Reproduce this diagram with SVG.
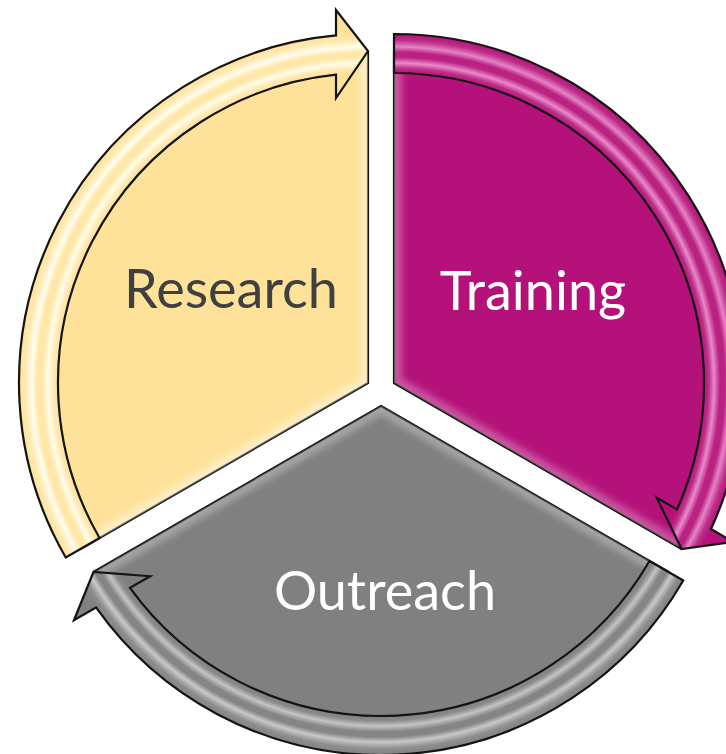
<svg xmlns="http://www.w3.org/2000/svg" xmlns:xlink="http://www.w3.org/1999/xlink" width="726" height="754" viewBox="0 0 726 754">
  <style>
    .edge{stroke:#141414;stroke-width:2.2;stroke-linejoin:miter}
    .lbl{font-family:Lato,"Open Sans","Liberation Sans",sans-serif;font-size:54px;text-anchor:middle}
    .shine{fill:none;stroke:#ffffff;stroke-width:16;stroke-opacity:.4}
  </style>
  <defs>
    <!-- one 120 degree segment, drawn around its own centre (0,0), spanning 150..270 deg -->
    <path id="sector" d="M0,0 L-286.65,165.5 A331,331 0 0 1 0,-331 Z"/>
    <path id="sectorEdges" d="M-286.65,165.5 L0,0 L0,-331"/>
    <!-- curved arrow riding on the rim of a segment -->
    <path id="rimArrow" d="M-302.24,174.5 A349,349 0 0 1 -32,-347.53 L-32,-373 L0,-332 L-32,-285 L-32,-308.34 A310,310 0 0 0 -268.47,155 Z"/>
    <clipPath id="sectorClip"><use href="#sector"/></clipPath>
    <filter id="soft" x="-10%" y="-10%" width="120%" height="120%"><feGaussianBlur stdDeviation="3"/></filter>

    <radialGradient id="rimGold" gradientUnits="userSpaceOnUse" cx="0" cy="0" r="349">
      <stop offset="0" stop-color="#FFE29A"/>
      <stop offset="0.888" stop-color="#FFE29A"/>
      <stop offset="0.900" stop-color="#FFE8AE"/>
      <stop offset="0.917" stop-color="#FFFCE8"/>
      <stop offset="0.934" stop-color="#FFE7A8"/>
      <stop offset="0.948" stop-color="#FFE7A8"/>
      <stop offset="0.963" stop-color="#FFFDEE"/>
      <stop offset="0.982" stop-color="#FFEAB2"/>
      <stop offset="1" stop-color="#FFE29A"/>
    </radialGradient>
    <radialGradient id="rimMagenta" gradientUnits="userSpaceOnUse" cx="0" cy="0" r="349">
      <stop offset="0" stop-color="#B4127A"/>
      <stop offset="0.888" stop-color="#B4127A"/>
      <stop offset="0.902" stop-color="#BE2E88"/>
      <stop offset="0.917" stop-color="#E88ACA"/>
      <stop offset="0.934" stop-color="#BA2282"/>
      <stop offset="0.948" stop-color="#BA2282"/>
      <stop offset="0.963" stop-color="#E484C6"/>
      <stop offset="0.982" stop-color="#BE2E88"/>
      <stop offset="1" stop-color="#B4127A"/>
    </radialGradient>
    <radialGradient id="rimGrey" gradientUnits="userSpaceOnUse" cx="0" cy="0" r="349">
      <stop offset="0" stop-color="#808080"/>
      <stop offset="0.888" stop-color="#808080"/>
      <stop offset="0.902" stop-color="#8A8A8A"/>
      <stop offset="0.917" stop-color="#C4C4C4"/>
      <stop offset="0.934" stop-color="#858585"/>
      <stop offset="0.948" stop-color="#858585"/>
      <stop offset="0.963" stop-color="#C8C8C8"/>
      <stop offset="0.982" stop-color="#8E8E8E"/>
      <stop offset="1" stop-color="#828282"/>
    </radialGradient>
  </defs>

  <rect width="726" height="754" fill="#ffffff"/>

  <!-- segments -->
  <g id="research">
    <g transform="translate(368,383)">
      <use href="#sector" class="edge" fill="#FFE29A"/>
      <use href="#sectorEdges" class="shine" filter="url(#soft)" clip-path="url(#sectorClip)"/>
    </g>
    <text class="lbl" x="231" y="308" fill="#404040">Research</text>
  </g>

  <g id="training">
    <g transform="translate(394,383) rotate(120)">
      <use href="#sector" class="edge" fill="#B4127A"/>
      <use href="#sectorEdges" class="shine" filter="url(#soft)" clip-path="url(#sectorClip)" style="stroke-opacity:.28"/>
    </g>
    <text class="lbl" x="533" y="310" fill="#ffffff">Training</text>
  </g>

  <g id="outreach">
    <g transform="translate(381,406) rotate(240)">
      <use href="#sector" class="edge" fill="#808080"/>
      <use href="#sectorEdges" class="shine" filter="url(#soft)" clip-path="url(#sectorClip)" style="stroke-opacity:.28"/>
    </g>
    <text class="lbl" x="385" y="610" fill="#ffffff">Outreach</text>
  </g>

  <!-- circular arrows linking the segments -->
  <g id="connectors">
    <use href="#rimArrow" class="edge" fill="url(#rimGold)" transform="translate(368,383)"/>
    <use href="#rimArrow" class="edge" fill="url(#rimMagenta)" transform="translate(394,383) rotate(120)"/>
    <use href="#rimArrow" class="edge" fill="url(#rimGrey)" transform="translate(381,406) rotate(240)"/>
  </g>
</svg>
